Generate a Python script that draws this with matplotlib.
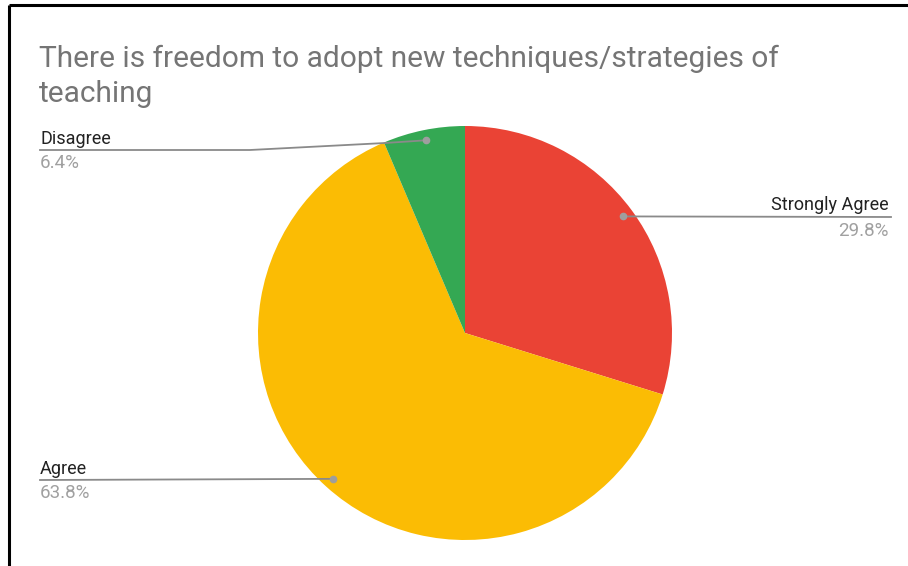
import numpy as np
import matplotlib.pyplot as plt

title = "There is freedom to adopt new techniques/strategies of\nteaching"
labels = ["Strongly Agree", "Agree", "Disagree"]
values = [29.8, 63.8, 6.4]
colors = ["#ea4335", "#fbbc04", "#34a853"]

W, H = 908, 566
fig = plt.figure(figsize=(W / 100, H / 100), dpi=100)
ax = fig.add_axes([0, 0, 1, 1])
ax.set_xlim(0, W)
ax.set_ylim(0, H)
ax.set_aspect("equal")
ax.axis("off")

cx, cy, r = 465, H - 333, 207
ax.pie(values, colors=colors, startangle=90, counterclock=False,
       center=(cx, cy), radius=r, wedgeprops=dict(linewidth=0))
ax.set_xlim(0, W)
ax.set_ylim(0, H)

# frame (left and top only)
ax.plot([8.5, 8.5], [0, H - 5], color="black", lw=2.2, solid_capstyle="butt")
ax.plot([8.5, W], [H - 5, H - 5], color="black", lw=2.2, solid_capstyle="butt")

# baseline alignment of multi-line text uses the last line
fig.text(39 / W, 1 - 102 / H, title, fontsize=21.5, color="#757575",
         family="Roboto", va="baseline", ha="left", linespacing=1.33)

# leader lines and labels
total = sum(values)
cum = np.cumsum([0] + values)
line_y = {"Strongly Agree": 217, "Agree": 480, "Disagree": 150}
for i, lab in enumerate(labels):
    mid = (cum[i] + values[i] / 2) / total * 360
    ang = np.deg2rad(90 - mid)
    dx, dy = cx + 0.95 * r * np.cos(ang), cy + 0.95 * r * np.sin(ang)
    ly = H - line_y[lab]
    if lab == "Strongly Agree":
        xs, ys = [dx, 891], [dy, ly]
        tx, ha = 889, "right"
    elif lab == "Agree":
        xs, ys = [dx, 40], [dy, ly]
        tx, ha = 40, "left"
    else:
        xs, ys = [dx, 385, 250, 40], [dy, H - 143, ly, ly]
        tx, ha = 40, "left"
    ax.plot(xs, ys, color="#8a8a8a", lw=1.3, zorder=3)
    ax.plot(dx, dy, "o", color="#9e9e9e", ms=4.5, zorder=4)
    ax.text(tx, ly + 6.5, lab, fontsize=13, color="#222222", family="Roboto",
            ha=ha, va="baseline")
    ax.text(tx, ly - 18.5, f"{values[i]}%", fontsize=13.5, color="#a0a0a0",
            family="Roboto", ha=ha, va="baseline")

fig.savefig("out.png", dpi=100)
